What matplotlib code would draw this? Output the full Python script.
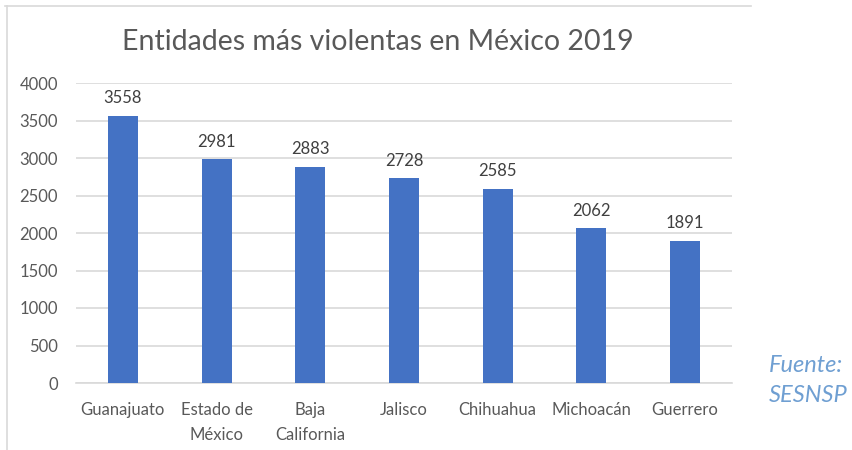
import numpy as np
import matplotlib.pyplot as plt
from matplotlib.lines import Line2D

estados = ['Guanajuato', 'Estado de\nMéxico', 'Baja\nCalifornia', 'Jalisco',
           'Chihuahua', 'Michoacán', 'Guerrero']
homicidios = [3558, 2981, 2883, 2728, 2585, 2062, 1891]
yticks = [0, 500, 1000, 1500, 2000, 2500, 3000, 3500, 4000]

plt.rcParams['font.family'] = ['Lato', 'DejaVu Sans']
W, H = 853, 450
fig = plt.figure(figsize=(W/100, H/100), dpi=100)
ax = fig.add_axes([76/W, 67/H, 656/W, 300/H])

x = np.arange(len(estados))
ax.bar(x, homicidios, width=0.32, color='#4472C4', zorder=3)
for xi, v in zip(x, homicidios):
	ax.annotate(str(v), (xi, v), xytext=(0, 7), textcoords='offset points',
		ha='center', va='bottom', fontsize=12, color='#404040')

ax.set_xlim(-0.5, len(estados)-0.5)
ax.set_ylim(0, 4000)
ax.set_yticks(yticks)
ax.set_xticks(x)
ax.set_xticklabels(estados, fontsize=12, color='#595959', linespacing=1.62)
ax.tick_params(axis='y', labelsize=12, labelcolor='#595959', length=0, pad=13)
ax.tick_params(axis='x', length=0, pad=14)
ax.grid(axis='y', color='#d9d9d9', linewidth=1.2, zorder=0)
for s in ['top', 'right', 'left']:
	ax.spines[s].set_visible(False)
ax.spines['bottom'].set_color('#d9d9d9')
ax.spines['bottom'].set_linewidth(1.2)

fig.text(378/W, 1-42/H, 'Entidades más violentas en México 2019', ha='center',
	va='center', fontsize=20.5, color='#595959')
fig.text(769/W, 1-366/H, 'Fuente:', ha='left', va='center', fontsize=17,
	style='italic', color='#6f9fd2')
fig.text(769/W, 1-395/H, 'SESNSP', ha='left', va='center', fontsize=17,
	style='italic', color='#6f9fd2')

# borde del grafico
fig.add_artist(Line2D([5/W, 751/W], [1-6/H, 1-6/H], color='#d9d9d9', linewidth=1.2))
fig.add_artist(Line2D([7/W, 7/W], [0, 1-6/H], color='#d9d9d9', linewidth=1.2))

fig.savefig('out.png', dpi=100)
